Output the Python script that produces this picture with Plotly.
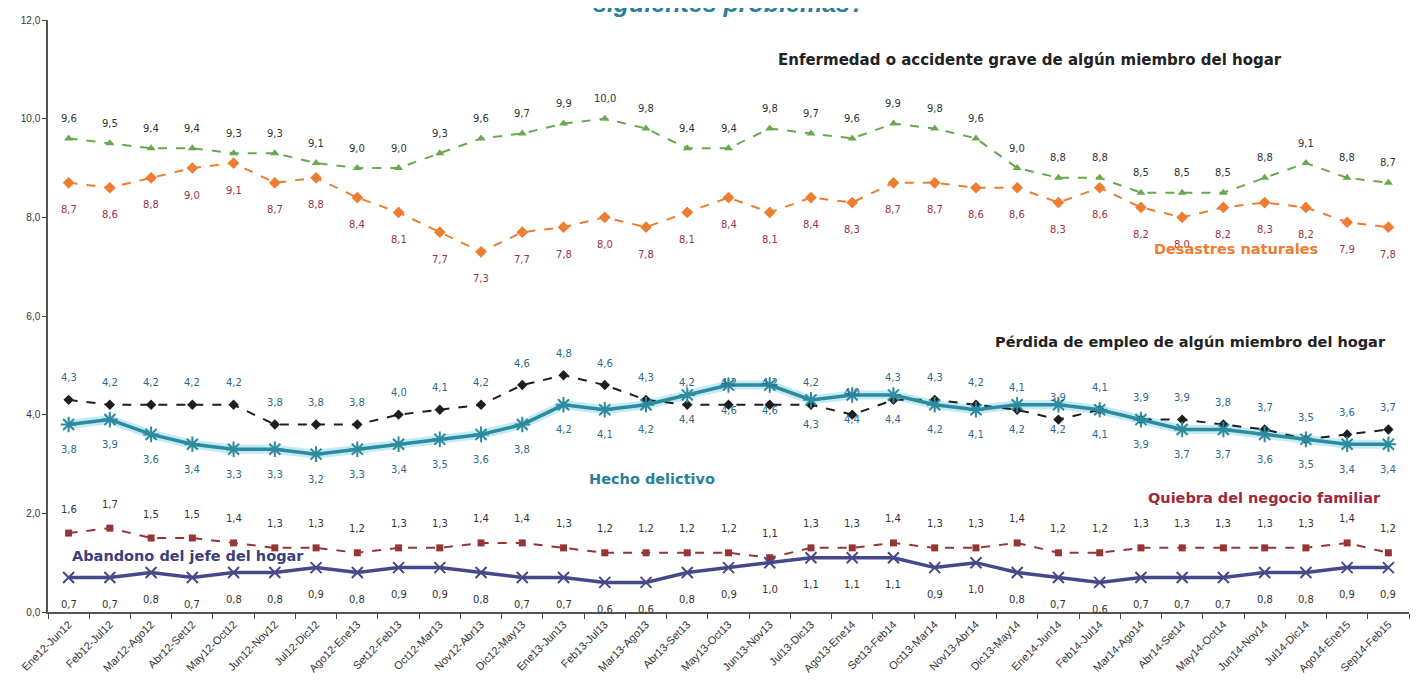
import plotly.graph_objects as go

# Categorías (periodos móviles de 6 meses)
periodos = ["Ene12-Jun12", "Feb12-Jul12", "Mar12-Ago12", "Abr12-Set12", "May12-Oct12",
            "Jun12-Nov12", "Jul12-Dic12", "Ago12-Ene13", "Set12-Feb13", "Oct12-Mar13",
            "Nov12-Abr13", "Dic12-May13", "Ene13-Jun13", "Feb13-Jul13", "Mar13-Ago13",
            "Abr13-Set13", "May13-Oct13", "Jun13-Nov13", "Jul13-Dic13", "Ago13-Ene14",
            "Set13-Feb14", "Oct13-Mar14", "Nov13-Abr14", "Dic13-May14", "Ene14-Jun14",
            "Feb14-Jul14", "Mar14-Ago14", "Abr14-Set14", "May14-Oct14", "Jun14-Nov14",
            "Jul14-Dic14", "Ago14-Ene15", "Sep14-Feb15"]

enfermedad = [9.6, 9.5, 9.4, 9.4, 9.3, 9.3, 9.1, 9.0, 9.0, 9.3, 9.6, 9.7, 9.9, 10.0, 9.8,
              9.4, 9.4, 9.8, 9.7, 9.6, 9.9, 9.8, 9.6, 9.0, 8.8, 8.8, 8.5, 8.5, 8.5, 8.8,
              9.1, 8.8, 8.7]
desastres = [8.7, 8.6, 8.8, 9.0, 9.1, 8.7, 8.8, 8.4, 8.1, 7.7, 7.3, 7.7, 7.8, 8.0, 7.8,
             8.1, 8.4, 8.1, 8.4, 8.3, 8.7, 8.7, 8.6, 8.6, 8.3, 8.6, 8.2, 8.0, 8.2, 8.3,
             8.2, 7.9, 7.8]
empleo = [4.3, 4.2, 4.2, 4.2, 4.2, 3.8, 3.8, 3.8, 4.0, 4.1, 4.2, 4.6, 4.8, 4.6, 4.3,
          4.2, 4.2, 4.2, 4.2, 4.0, 4.3, 4.3, 4.2, 4.1, 3.9, 4.1, 3.9, 3.9, 3.8, 3.7,
          3.5, 3.6, 3.7]
delictivo = [3.8, 3.9, 3.6, 3.4, 3.3, 3.3, 3.2, 3.3, 3.4, 3.5, 3.6, 3.8, 4.2, 4.1, 4.2,
             4.4, 4.6, 4.6, 4.3, 4.4, 4.4, 4.2, 4.1, 4.2, 4.2, 4.1, 3.9, 3.7, 3.7, 3.6,
             3.5, 3.4, 3.4]
quiebra = [1.6, 1.7, 1.5, 1.5, 1.4, 1.3, 1.3, 1.2, 1.3, 1.3, 1.4, 1.4, 1.3, 1.2, 1.2,
           1.2, 1.2, 1.1, 1.3, 1.3, 1.4, 1.3, 1.3, 1.4, 1.2, 1.2, 1.3, 1.3, 1.3, 1.3,
           1.3, 1.4, 1.2]
abandono = [0.7, 0.7, 0.8, 0.7, 0.8, 0.8, 0.9, 0.8, 0.9, 0.9, 0.8, 0.7, 0.7, 0.6, 0.6,
            0.8, 0.9, 1.0, 1.1, 1.1, 1.1, 0.9, 1.0, 0.8, 0.7, 0.6, 0.7, 0.7, 0.7, 0.8,
            0.8, 0.9, 0.9]

y_ticks = [0, 2, 4, 6, 8, 10, 12]

FONT = "Liberation Sans"
LBL_FONT = "DejaVu Sans"

fig = go.Figure()

# halo claro bajo la línea de hecho delictivo
fig.add_trace(go.Scatter(x=periodos, y=delictivo, mode="lines",
                         line=dict(color="rgba(120,210,230,0.45)", width=9),
                         hoverinfo="skip", showlegend=False))


def serie(y, color, dash, width, symbol, msize, shift, tcolor, mline=0):
    fig.add_trace(go.Scatter(
        x=periodos, y=y, mode="lines+markers",
        line=dict(color=color, dash=dash, width=width),
        marker=dict(symbol=symbol, size=msize, color=color,
                    line=dict(color=color, width=mline)),
        showlegend=False))
    # etiquetas de datos con coma decimal
    for p, v in zip(periodos, y):
        fig.add_annotation(x=p, y=v, yshift=shift, showarrow=False,
                           text=f"{v:.1f}".replace(".", ","),
                           font=dict(family=LBL_FONT, size=10, color=tcolor))


serie(enfermedad, "#6aa84f", "dash", 2, "triangle-up", 8, 20, "#333333")
serie(desastres, "#ed7d31", "dash", 2, "diamond", 9, -27, "#9b3347")
serie(empleo, "#1e1e1e", "dash", 2, "diamond", 8, 22, "#2a6a8e")
serie(delictivo, "#2e8a9e", "solid", 3.5, "asterisk-open", 13, -25, "#2a6a8e", mline=2)
serie(quiebra, "#963634", "dash", 2, "square", 7, 24, "#333333")
serie(abandono, "#45498a", "solid", 3.5, "x-thin-open", 11, -27, "#333333", mline=2)

notas = [
    ("Enfermedad o accidente grave de algún miembro del hogar", 23.3, 11.19, "#222222", 15),
    ("Desastres naturales", 28.3, 7.36, "#ed7d31", 14.5),
    ("Pérdida de empleo de algún miembro del hogar", 27.2, 5.47, "#222222", 14.5),
    ("Hecho delictivo", 14.15, 2.70, "#2a7f98", 14.5),
    ("Quiebra del negocio familiar", 29.0, 2.31, "#a0283c", 14.5),
    ("Abandono del jefe del hogar", 2.9, 1.14, "#3a3f80", 14.5),
]
for texto, xc, yc, col, fs in notas:
    fig.add_annotation(x=xc, y=yc, text=f"<b>{texto}</b>", showarrow=False,
                       font=dict(family=LBL_FONT, size=fs, color=col))

# título cortado en el borde superior, como en la imagen original
fig.add_annotation(xref="paper", yref="paper", x=0.5, y=1.0, yshift=1, yanchor="bottom",
                   text="<b><i>siguientes problemas?</i></b>", showarrow=False,
                   font=dict(family=FONT, size=25, color="#2a7f98"))

# la página añade 8 px de margen al cuerpo; los márgenes lo compensan
fig.update_layout(
    width=1420, height=688,
    margin=dict(l=40, r=19, t=12, b=84),
    paper_bgcolor="white", plot_bgcolor="white",
    separators=", ",
    font=dict(family=FONT, size=10, color="#333333"),
)
fig.update_xaxes(type="category", tickangle=-45, ticks="outside", tickson="boundaries",
                 ticklen=5, showline=True, linecolor="#555555", linewidth=1.5,
                 tickfont=dict(family=FONT, size=11, color="#333333"),
                 showgrid=False, automargin=False,
                 range=[-0.5, len(periodos) - 0.5])
fig.update_yaxes(range=[0, 12], tickvals=y_ticks, tickformat=".1f", ticks="outside",
                 ticklen=4, showline=True, linecolor="#555555", linewidth=1.5,
                 showgrid=False, zeroline=False, automargin=False,
                 tickfont=dict(family=FONT, size=10, color="#333333"))

fig.write_html("out.html")
